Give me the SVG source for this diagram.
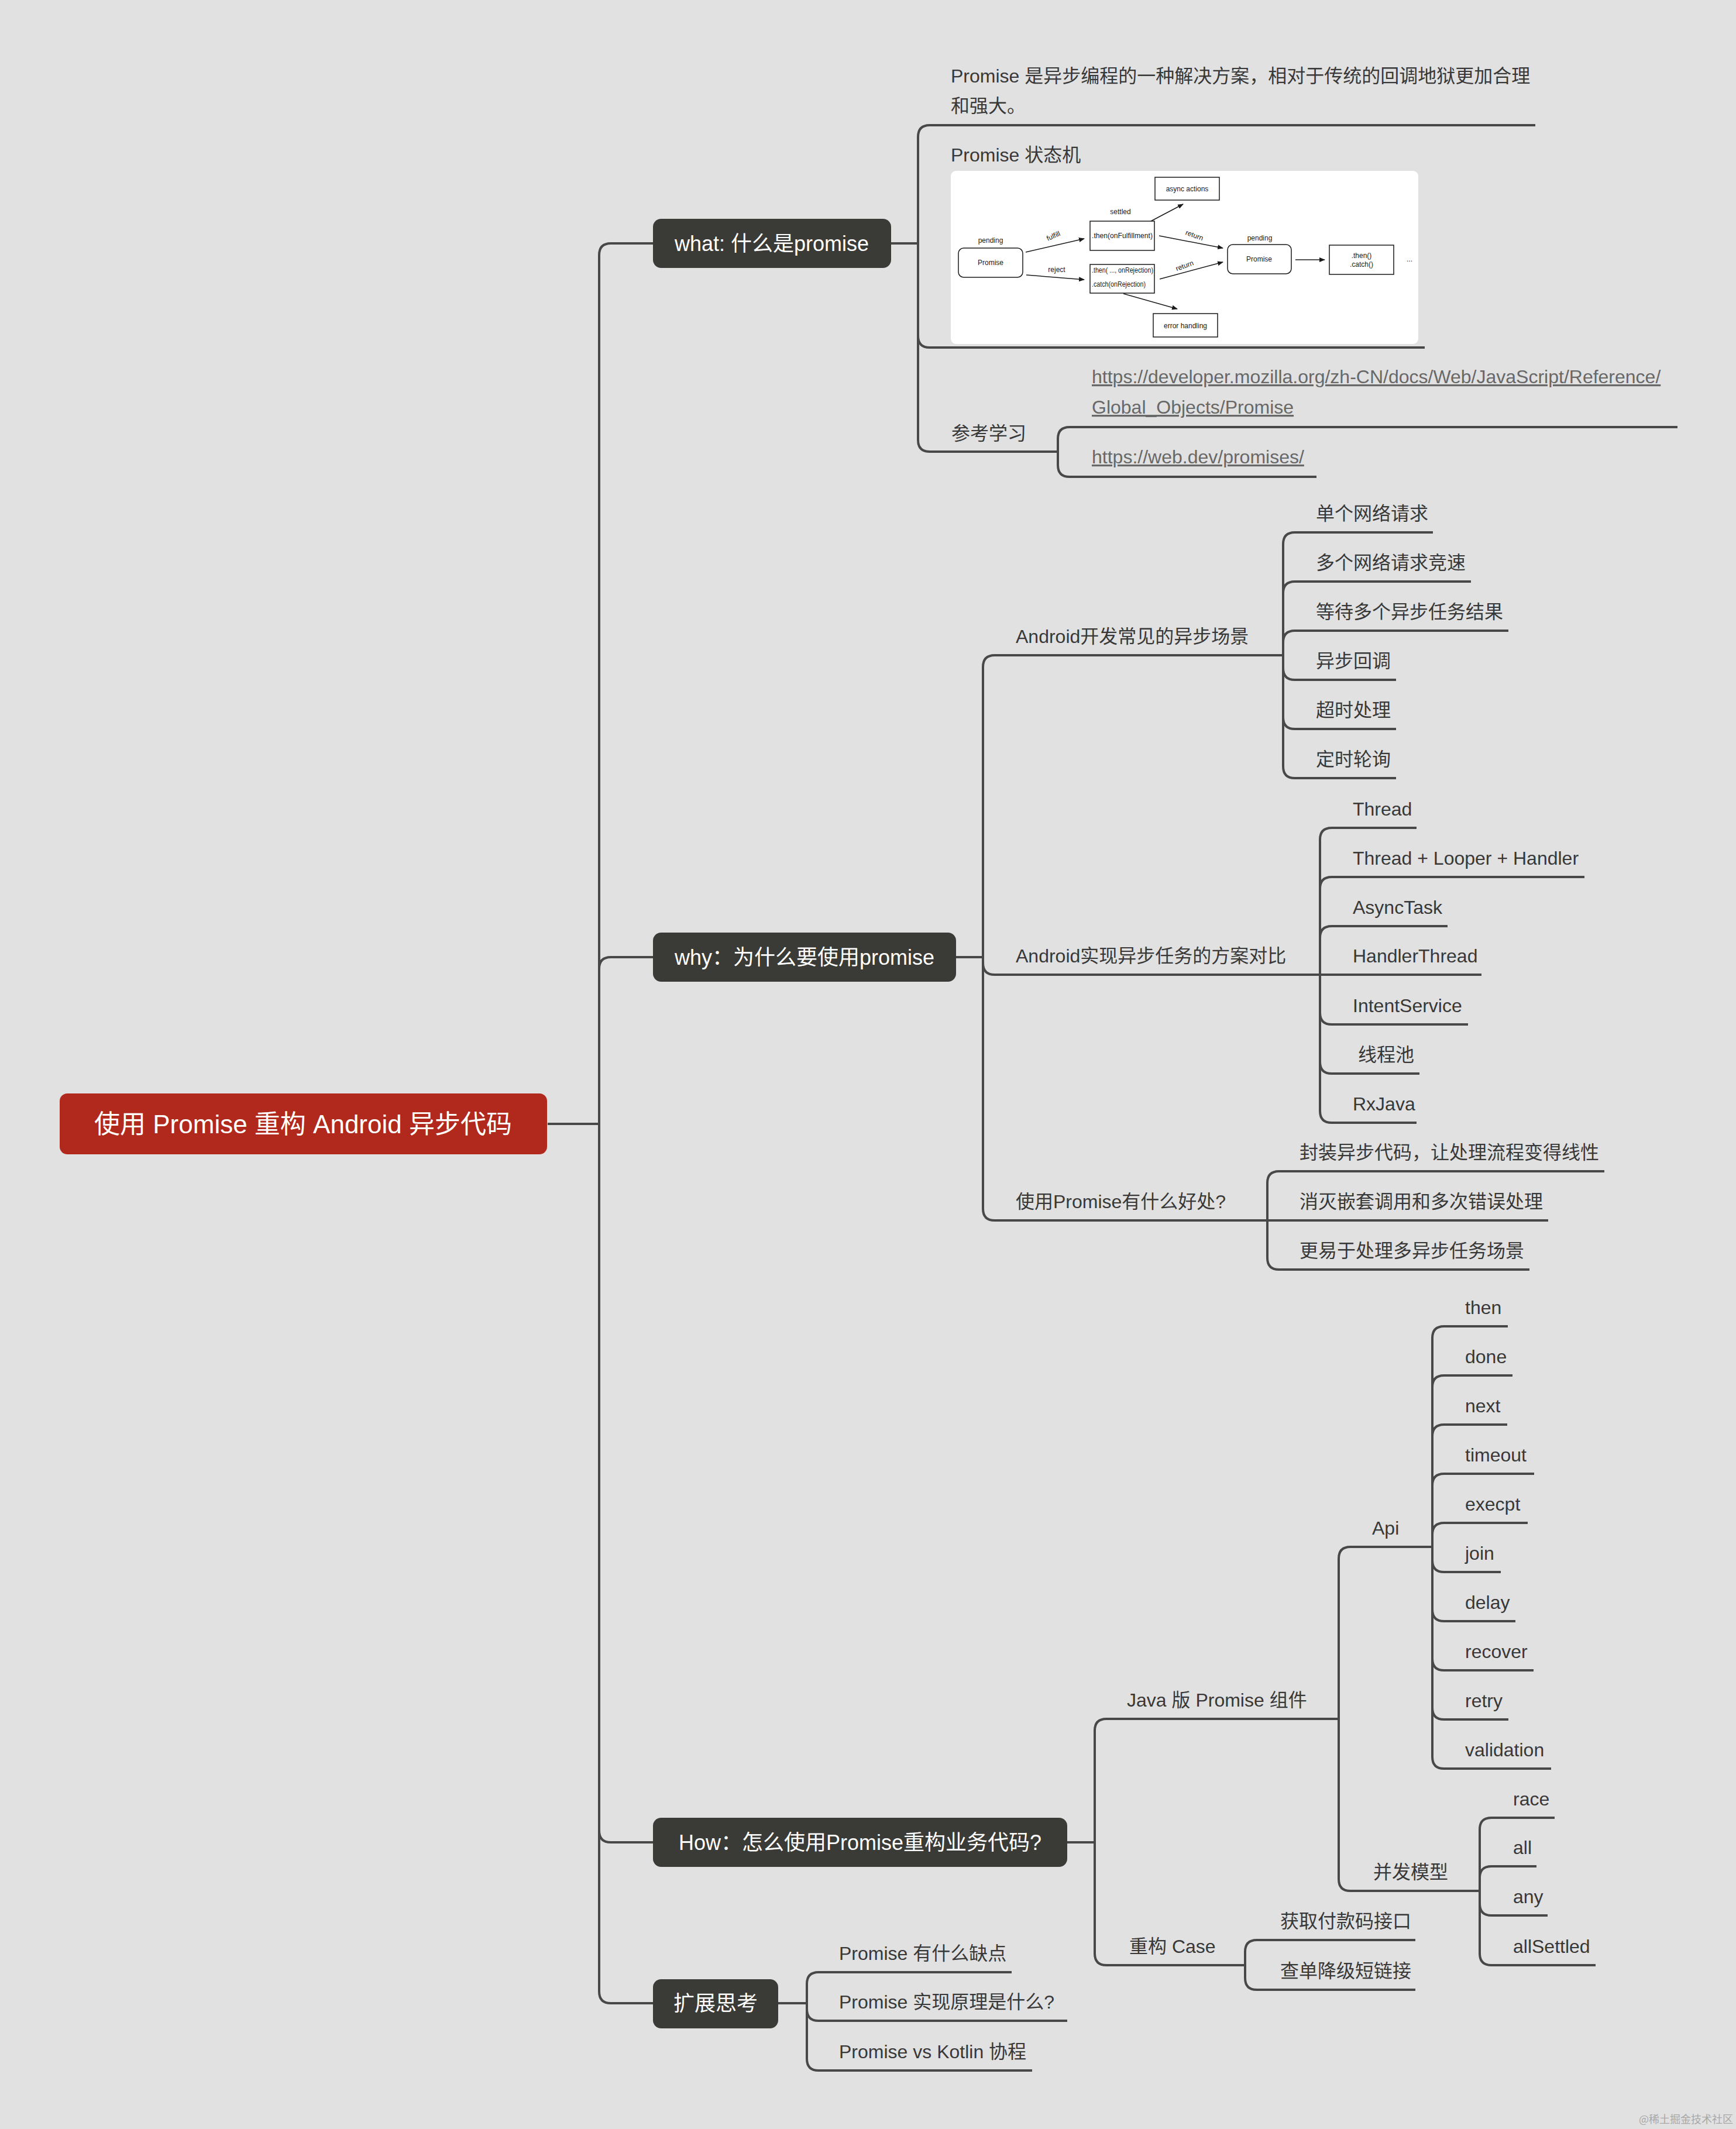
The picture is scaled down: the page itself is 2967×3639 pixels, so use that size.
<svg xmlns="http://www.w3.org/2000/svg" width="2967" height="3639" viewBox="0 0 2967 3639">
<style>
.ln{fill:none;stroke:#484848;stroke-width:4}
.t{font-family:"Liberation Sans","Noto Sans CJK SC",sans-serif;font-size:32px;fill:#383838}
.lk{font-family:"Liberation Sans","Noto Sans CJK SC",sans-serif;font-size:32px;fill:#686868;text-decoration:underline}
.bt{font-family:"Liberation Sans","Noto Sans CJK SC",sans-serif;font-size:36px;fill:#ffffff;text-anchor:middle}
.rt{font-family:"Liberation Sans","Noto Sans CJK SC",sans-serif;font-size:44px;fill:#ffffff;text-anchor:middle}
.box{fill:#3a3a37}
.root{fill:#b1291c}
.d{font-family:"Liberation Sans",Arial,sans-serif;font-size:12px;fill:#1a1a1a}
.dm{text-anchor:middle}
.db{fill:#ffffff;stroke:#1a1a1a;stroke-width:1.5}
.da{fill:none;stroke:#1a1a1a;stroke-width:1.5;marker-end:url(#ah)}
.wm{font-family:"Noto Sans CJK SC",sans-serif;font-size:18px;fill:#a8a8a8}
</style>
<defs>
<marker id="ah" markerUnits="userSpaceOnUse" markerWidth="10" markerHeight="8" refX="9" refY="4" orient="auto">
<path d="M0,0 L10,4 L0,8 z" fill="#1a1a1a"/>
</marker>
</defs>
<rect x="0" y="0" width="2967" height="3639" fill="#e1e1e1"/>

<g id="connectors">
<path class="ln" d="M936 1921 H1024"/>
<path class="ln" d="M1024 1921 V436 Q1024 416 1044 416 H1116"/>
<path class="ln" d="M1024 1921 V1656 Q1024 1636 1044 1636 H1116"/>
<path class="ln" d="M1024 1921 V3129 Q1024 3149 1044 3149 H1116"/>
<path class="ln" d="M1024 1921 V3404 Q1024 3424 1044 3424 H1116"/>

<path class="ln" d="M1523 416 H1569"/>
<path class="ln" d="M1569 416 V234 Q1569 214 1589 214 H2624"/>
<path class="ln" d="M1569 416 V574 Q1569 594 1589 594 H2435"/>
<path class="ln" d="M1569 416 V752 Q1569 772 1589 772 H1808"/>
<path class="ln" d="M1808 772 V750 Q1808 730 1828 730 H2867"/>
<path class="ln" d="M1808 772 V795 Q1808 815 1828 815 H2250"/>

<path class="ln" d="M1634 1636 H1680"/>
<path class="ln" d="M1680 1636 V1140 Q1680 1120 1700 1120 H2193"/>
<path class="ln" d="M1680 1636 V1646 Q1680 1666 1700 1666 H2256"/>
<path class="ln" d="M1680 1636 V2066 Q1680 2086 1700 2086 H2166"/>

<path class="ln" d="M2193 1120 V930 Q2193 910 2213 910 H2449"/>
<path class="ln" d="M2193 1120 V1014 Q2193 994 2213 994 H2514"/>
<path class="ln" d="M2193 1120 V1098 Q2193 1078 2213 1078 H2578"/>
<path class="ln" d="M2193 1120 V1142 Q2193 1162 2213 1162 H2386"/>
<path class="ln" d="M2193 1120 V1226 Q2193 1246 2213 1246 H2386"/>
<path class="ln" d="M2193 1120 V1310 Q2193 1330 2213 1330 H2386"/>

<path class="ln" d="M2256 1666 V1435 Q2256 1415 2276 1415 H2421"/>
<path class="ln" d="M2256 1666 V1519 Q2256 1499 2276 1499 H2708"/>
<path class="ln" d="M2256 1666 V1603 Q2256 1583 2276 1583 H2474"/>
<path class="ln" d="M2256 1666 H2532"/>
<path class="ln" d="M2256 1666 V1731 Q2256 1751 2276 1751 H2509"/>
<path class="ln" d="M2256 1666 V1815 Q2256 1835 2276 1835 H2426"/>
<path class="ln" d="M2256 1666 V1899 Q2256 1919 2276 1919 H2421"/>

<path class="ln" d="M2166 2086 V2022 Q2166 2002 2186 2002 H2742"/>
<path class="ln" d="M2166 2086 H2646"/>
<path class="ln" d="M2166 2086 V2150 Q2166 2170 2186 2170 H2614"/>

<path class="ln" d="M1824 3149 H1871"/>
<path class="ln" d="M1871 3149 V2958 Q1871 2938 1891 2938 H2288"/>
<path class="ln" d="M1871 3149 V3339 Q1871 3359 1891 3359 H2128"/>

<path class="ln" d="M2288 2938 V2664 Q2288 2644 2308 2644 H2448"/>
<path class="ln" d="M2288 2938 V3212 Q2288 3232 2308 3232 H2529"/>

<path class="ln" d="M2448 2644 V2287 Q2448 2267 2468 2267 H2577"/>
<path class="ln" d="M2448 2644 V2371 Q2448 2351 2468 2351 H2585"/>
<path class="ln" d="M2448 2644 V2455 Q2448 2435 2468 2435 H2576"/>
<path class="ln" d="M2448 2644 V2539 Q2448 2519 2468 2519 H2622"/>
<path class="ln" d="M2448 2644 V2623 Q2448 2603 2468 2603 H2611"/>
<path class="ln" d="M2448 2644 V2667 Q2448 2687 2468 2687 H2565"/>
<path class="ln" d="M2448 2644 V2751 Q2448 2771 2468 2771 H2590"/>
<path class="ln" d="M2448 2644 V2835 Q2448 2855 2468 2855 H2621"/>
<path class="ln" d="M2448 2644 V2919 Q2448 2939 2468 2939 H2578"/>
<path class="ln" d="M2448 2644 V3003 Q2448 3023 2468 3023 H2651"/>

<path class="ln" d="M2529 3232 V3127 Q2529 3107 2549 3107 H2657"/>
<path class="ln" d="M2529 3232 V3210 Q2529 3190 2549 3190 H2626"/>
<path class="ln" d="M2529 3232 V3254 Q2529 3274 2549 3274 H2645"/>
<path class="ln" d="M2529 3232 V3339 Q2529 3359 2549 3359 H2727"/>

<path class="ln" d="M2128 3359 V3336 Q2128 3316 2148 3316 H2419"/>
<path class="ln" d="M2128 3359 V3381 Q2128 3401 2148 3401 H2419"/>

<path class="ln" d="M1330 3424 H1379"/>
<path class="ln" d="M1379 3424 V3391 Q1379 3371 1399 3371 H1729"/>
<path class="ln" d="M1379 3424 V3434 Q1379 3454 1399 3454 H1824"/>
<path class="ln" d="M1379 3424 V3519 Q1379 3539 1399 3539 H1764"/>
</g>

<g id="root">
<rect class="root" x="102" y="1869" width="833" height="104" rx="13"/>
<text class="rt" x="518" y="1937">使用 Promise 重构 Android 异步代码</text>
</g>

<g id="what">
<rect class="box" x="1116" y="374" width="407" height="84" rx="14"/>
<text class="bt" x="1319" y="429">what: 什么是promise</text>
</g>
<g id="what-desc">
<text class="t" x="1625" y="141">Promise 是异步编程的一种解决方案，相对于传统的回调地狱更加合理</text>
<text class="t" x="1625" y="192">和强大。</text>
</g>
<g id="what-state">
<text class="t" x="1625" y="276">Promise 状态机</text>
<rect x="1625" y="292" width="799" height="296" rx="9" fill="#ffffff"/>
<line class="da" x1="1753" y1="431" x2="1853" y2="408"/>
<line class="da" x1="1754" y1="470" x2="1853" y2="478"/>
<line class="da" x1="1967" y1="378" x2="2022" y2="349"/>
<line class="da" x1="1920" y1="502" x2="2012" y2="528"/>
<line class="da" x1="1981" y1="403" x2="2090" y2="424"/>
<line class="da" x1="1982" y1="477" x2="2090" y2="448"/>
<line class="da" x1="2214" y1="444" x2="2264" y2="444"/>
<rect class="db" x="1638" y="424" width="110" height="50" rx="9"/>
<rect class="db" x="1863" y="378" width="110" height="50"/>
<rect class="db" x="1863" y="452" width="110" height="49"/>
<rect class="db" x="1974" y="303" width="110" height="39"/>
<rect class="db" x="1971" y="536" width="110" height="40"/>
<rect class="db" x="2098" y="418" width="109" height="50" rx="9"/>
<rect class="db" x="2272" y="419" width="110" height="50"/>
<text class="d dm" x="1693" y="415">pending</text>
<text class="d dm" x="1693" y="453">Promise</text>
<text class="d dm" transform="translate(1802 407) rotate(-24)">fulfill</text>
<text class="d dm" x="1806" y="465">reject</text>
<text class="d dm" x="1915" y="366">settled</text>
<text class="d" x="1866" y="407" textLength="104" lengthAdjust="spacingAndGlyphs">.then(onFulfillment)</text>
<text class="d" x="1866" y="466" textLength="105" lengthAdjust="spacingAndGlyphs">.then( ..., onRejection)</text>
<text class="d" x="1866" y="490" textLength="92" lengthAdjust="spacingAndGlyphs">.catch(onRejection)</text>
<text class="d dm" x="2029" y="327">async actions</text>
<text class="d dm" x="2026" y="561">error handling</text>
<text class="d dm" transform="translate(2040 406) rotate(20)">return</text>
<text class="d dm" transform="translate(2026 458) rotate(-20)">return</text>
<text class="d dm" x="2153" y="411">pending</text>
<text class="d dm" x="2152" y="447">Promise</text>
<text class="d dm" x="2327" y="441">.then()</text>
<text class="d dm" x="2327" y="456">.catch()</text>
<text class="d dm" x="2409" y="447">...</text>
</g>
<g id="what-ref">
<text class="t" x="1626" y="752">参考学习</text>
</g>
<g id="ref-mdn">
<text class="lk" x="1866" y="655">https://developer.mozilla.org/zh-CN/docs/Web/JavaScript/Reference/</text>
<text class="lk" x="1866" y="707">Global_Objects/Promise</text>
</g>
<g id="ref-webdev">
<text class="lk" x="1866" y="792">https://web.dev/promises/</text>
</g>

<g id="why">
<rect class="box" x="1116" y="1594" width="518" height="84" rx="14"/>
<text class="bt" x="1375" y="1649">why：为什么要使用promise</text>
</g>
<g id="why-scenes"><text class="t" x="1736" y="1099">Android开发常见的异步场景</text></g>
<g id="scene-1"><text class="t" x="2249" y="889">单个网络请求</text></g>
<g id="scene-2"><text class="t" x="2249" y="973">多个网络请求竞速</text></g>
<g id="scene-3"><text class="t" x="2249" y="1057">等待多个异步任务结果</text></g>
<g id="scene-4"><text class="t" x="2249" y="1141">异步回调</text></g>
<g id="scene-5"><text class="t" x="2249" y="1225">超时处理</text></g>
<g id="scene-6"><text class="t" x="2249" y="1309">定时轮询</text></g>

<g id="why-compare"><text class="t" x="1736" y="1645">Android实现异步任务的方案对比</text></g>
<g id="cmp-1"><text class="t" x="2312" y="1394">Thread</text></g>
<g id="cmp-2"><text class="t" x="2312" y="1478">Thread + Looper + Handler</text></g>
<g id="cmp-3"><text class="t" x="2312" y="1562">AsyncTask</text></g>
<g id="cmp-4"><text class="t" x="2312" y="1645">HandlerThread</text></g>
<g id="cmp-5"><text class="t" x="2312" y="1730">IntentService</text></g>
<g id="cmp-6"><text class="t" x="2321" y="1814">线程池</text></g>
<g id="cmp-7"><text class="t" x="2312" y="1898">RxJava</text></g>

<g id="why-benefit"><text class="t" x="1736" y="2065">使用Promise有什么好处?</text></g>
<g id="benefit-1"><text class="t" x="2221" y="1981">封装异步代码，让处理流程变得线性</text></g>
<g id="benefit-2"><text class="t" x="2221" y="2065">消灭嵌套调用和多次错误处理</text></g>
<g id="benefit-3"><text class="t" x="2221" y="2149">更易于处理多异步任务场景</text></g>

<g id="how">
<rect class="box" x="1116" y="3107" width="708" height="84" rx="14"/>
<text class="bt" x="1470" y="3162">How：怎么使用Promise重构业务代码?</text>
</g>
<g id="how-java"><text class="t" x="1926" y="2917">Java 版 Promise 组件</text></g>
<g id="java-api"><text class="t" x="2345" y="2623">Api</text></g>
<g id="api-then"><text class="t" x="2504" y="2246">then</text></g>
<g id="api-done"><text class="t" x="2504" y="2330">done</text></g>
<g id="api-next"><text class="t" x="2504" y="2414">next</text></g>
<g id="api-timeout"><text class="t" x="2504" y="2498">timeout</text></g>
<g id="api-execpt"><text class="t" x="2504" y="2582">execpt</text></g>
<g id="api-join"><text class="t" x="2504" y="2666">join</text></g>
<g id="api-delay"><text class="t" x="2504" y="2750">delay</text></g>
<g id="api-recover"><text class="t" x="2504" y="2834">recover</text></g>
<g id="api-retry"><text class="t" x="2504" y="2918">retry</text></g>
<g id="api-validation"><text class="t" x="2504" y="3002">validation</text></g>
<g id="java-concurrency"><text class="t" x="2347" y="3211">并发模型</text></g>
<g id="cc-race"><text class="t" x="2586" y="3086">race</text></g>
<g id="cc-all"><text class="t" x="2586" y="3169">all</text></g>
<g id="cc-any"><text class="t" x="2586" y="3253">any</text></g>
<g id="cc-allsettled"><text class="t" x="2586" y="3338">allSettled</text></g>
<g id="how-case"><text class="t" x="1930" y="3338">重构 Case</text></g>
<g id="case-1"><text class="t" x="2188" y="3295">获取付款码接口</text></g>
<g id="case-2"><text class="t" x="2188" y="3380">查单降级短链接</text></g>

<g id="ext">
<rect class="box" x="1116" y="3383" width="214" height="84" rx="14"/>
<text class="bt" x="1223" y="3437">扩展思考</text>
</g>
<g id="ext-1"><text class="t" x="1434" y="3350">Promise 有什么缺点</text></g>
<g id="ext-2"><text class="t" x="1434" y="3433">Promise 实现原理是什么?</text></g>
<g id="ext-3"><text class="t" x="1434" y="3518">Promise vs Kotlin 协程</text></g>

<text class="wm" x="2801" y="3629">@稀土掘金技术社区</text>
</svg>
